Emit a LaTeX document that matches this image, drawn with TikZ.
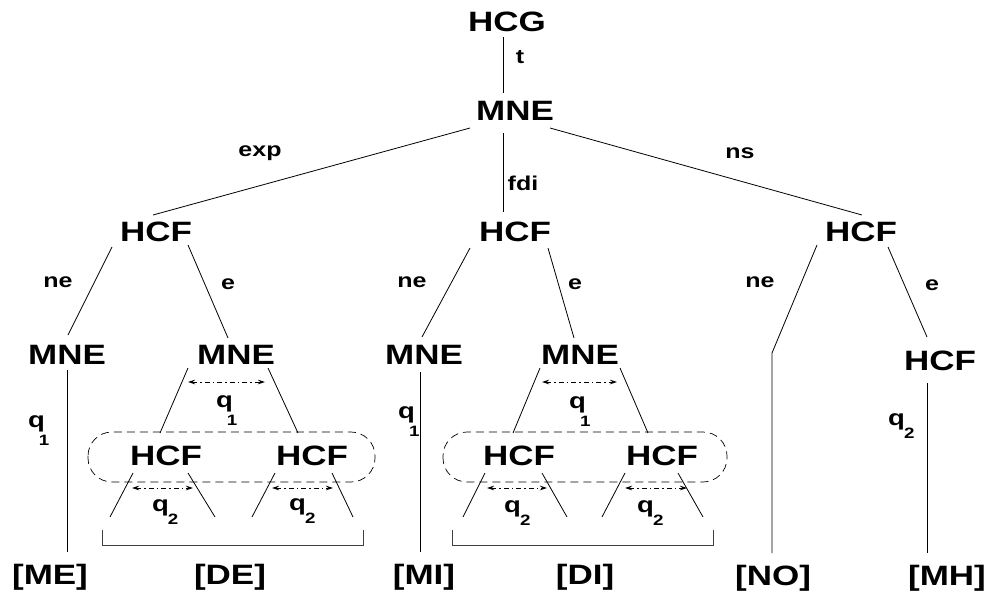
\documentclass[tikz,border=0pt]{standalone}
\usepackage{fontspec}
\setmainfont{Liberation Sans}[FakeStretch=1.25]
\usetikzlibrary{arrows.meta,calc}
\newcommand\qone{q\kern-6pt\raisebox{-18pt}{\fontsize{15}{15}\selectfont 1}}
\newcommand\qtwo{q\kern-1pt\raisebox{-13pt}{\fontsize{15}{15}\selectfont 2}}
\begin{document}
\begin{tikzpicture}[x=1pt,y=-1pt,
  big/.style={font=\fontsize{28}{28}\selectfont\bfseries, inner sep=0pt},
  lab/.style={font=\fontsize{20}{20}\selectfont\bfseries, inner sep=0pt},
  qlab/.style={font=\fontsize{22}{22}\selectfont\bfseries, inner sep=0pt, anchor=base west},
  edge/.style={line width=0.8pt},
  dd/.style={line width=0.8pt, dash pattern=on 5pt off 3pt on 1.5pt off 3pt,
     {Stealth[length=7pt,width=4.5pt]}-{Stealth[length=7pt,width=4.5pt]}},
  grp/.style={line width=0.7pt, dash pattern=on 8pt off 5pt, rounded corners=24pt},
  brk/.style={line width=0.7pt, black!75}]
\useasboundingbox (0,0) rectangle (986,599);
% nodes
\node[big] (HCG)  at (507,22)  {HCG};
\node[big] (MNE0) at (515,111) {MNE};
\node[big] (HCFa) at (156,232) {HCF};
\node[big] (HCFb) at (515,232) {HCF};
\node[big] (HCFc) at (861,232) {HCF};
\node[big] (MNEa1) at (67,355) {MNE};
\node[big] (MNEa2) at (236,355) {MNE};
\node[big] (MNEb1) at (424,355) {MNE};
\node[big] (MNEb2) at (580,355) {MNE};
\node[big] (HCFc2) at (940,361) {HCF};
\node[big] (HCFa21) at (166,456) {HCF};
\node[big] (HCFa22) at (312,456) {HCF};
\node[big] (HCFb21) at (519,456) {HCF};
\node[big] (HCFb22) at (662,456) {HCF};
\node[big] (ME) at (50,577) {[ME]};
\node[big] (DE) at (230,577) {[DE]};
\node[big] (MI) at (424,577) {[MI]};
\node[big] (DI) at (585,577) {[DI]};
\node[big] (NO) at (773,578) {[NO]};
\node[big] (MH) at (947,578) {[MH]};
% edge labels
\node[lab] (lt)   at (520,57)  {t};
\node[lab] (lexp) at (260,153) {exp};
\node[lab] (lfdi) at (523,183) {fdi};
\node[lab] (lns)  at (740,153) {ns};
\node[lab] (lne1) at (58,282)  {ne};
\node[lab] (le1)  at (228,284) {e};
\node[lab] (lne2) at (412,282) {ne};
\node[lab] (le2)  at (575,284) {e};
\node[lab] (lne3) at (760,282) {ne};
\node[lab] (le3)  at (932,285) {e};
% q labels
\node[qlab] (q1l) at (28,427)  {\qone};
\node[qlab] (q1m) at (398,418) {\qone};
\node[qlab] (q2r) at (888,425) {\qtwo};
\node[qlab] (q1a) at (216,407) {\qone};
\node[qlab] (q1b) at (569,408) {\qone};
\node[qlab] (q2a1) at (152,511) {\qtwo};
\node[qlab] (q2a2) at (289,510) {\qtwo};
\node[qlab] (q2b1) at (504,512) {\qtwo};
\node[qlab] (q2b2) at (637,512) {\qtwo};
% main edges
\draw[edge] ($(HCG)+(-4,15)$) -- ($(MNE0)+(-12,-18)$);
\draw[edge] ($(MNE0)+(-45,17)$) -- ($(HCFa)+(-3,-17)$);
\draw[edge] ($(MNE0)+(-12,22)$) -- ($(HCFb)+(-12,-20)$);
\draw[edge] ($(MNE0)+(35,17)$) -- ($(HCFc)+(1,-17)$);
\draw[edge] ($(HCFa)+(-44,15)$) -- ($(MNEa1)+(1,-20)$);
\draw[edge] ($(HCFa)+(32,13)$) -- ($(MNEa2)+(-8,-17)$);
\draw[edge] ($(HCFb)+(-45,16)$) -- ($(MNEb1)+(-2,-18)$);
\draw[edge] ($(HCFb)+(33,16)$) -- ($(MNEb2)+(-6,-17)$);
\coordinate (bend) at (772,353);
\draw[edge] ($(HCFc)+(-44,13)$) -- (bend) -- ($(NO)+(-1,-25)$);
\draw[edge] ($(HCFc)+(27,15)$) -- ($(HCFc2)+(-13,-24)$);
\draw[edge] ($(HCFc2)+(-13,22)$) -- ($(MH)+(-20,-25)$);
\draw[edge] ($(MNEa1)+(0,15)$) -- ($(ME)+(17,-25)$);
\draw[edge] ($(MNEb1)+(-4,17)$) -- ($(MI)+(-4,-25)$);
% subtree edges
\draw[edge] ($(MNEa2)+(-48,13)$) -- ($(HCFa21)+(-6,-23)$);
\draw[edge] ($(MNEa2)+(32,13)$) -- ($(HCFa22)+(-14,-23)$);
\draw[edge] ($(MNEb2)+(-40,13)$) -- ($(HCFb21)+(-6,-23)$);
\draw[edge] ($(MNEb2)+(40,13)$) -- ($(HCFb22)+(-14,-23)$);
% leaves
\coordinate (la1) at (110,517); \coordinate (la2) at (215,517);
\coordinate (la3) at (252,517); \coordinate (la4) at (353,517);
\coordinate (lb1) at (463,517); \coordinate (lb2) at (567,517);
\coordinate (lb3) at (602,517); \coordinate (lb4) at (703,517);
\draw[edge] ($(HCFa21)+(-33,17)$) -- (la1);
\draw[edge] ($(HCFa21)+(22,17)$) -- (la2);
\draw[edge] ($(HCFa22)+(-37,17)$) -- (la3);
\draw[edge] ($(HCFa22)+(20,17)$) -- (la4);
\draw[edge] ($(HCFb21)+(-34,17)$) -- (lb1);
\draw[edge] ($(HCFb21)+(23,17)$) -- (lb2);
\draw[edge] ($(HCFb22)+(-37,17)$) -- (lb3);
\draw[edge] ($(HCFb22)+(16,17)$) -- (lb4);
% double arrows
\coordinate (aa1) at (188,382); \coordinate (aa2) at (265,382);
\coordinate (ab1) at (542,382); \coordinate (ab2) at (617,382);
\coordinate (ca1) at (132,488); \coordinate (ca2) at (193,488);
\coordinate (cb1) at (272,488); \coordinate (cb2) at (333,488);
\coordinate (cc1) at (487,488); \coordinate (cc2) at (547,488);
\coordinate (cd1) at (625,488); \coordinate (cd2) at (687,488);
\draw[dd] (aa1) -- (aa2);
\draw[dd] (ab1) -- (ab2);
\draw[dd] (ca1) -- (ca2);
\draw[dd] (cb1) -- (cb2);
\draw[dd] (cc1) -- (cc2);
\draw[dd] (cd1) -- (cd2);
% dashed groups
\draw[grp] (88,432) rectangle (375,482);
\draw[grp] (443,432) rectangle (727,482);
% brackets
\draw[brk] (102,530) -- (102,545) -- (363,545) -- (363,530);
\draw[brk] (452,530) -- (452,545) -- (713,545) -- (713,530);
\end{tikzpicture}
\end{document}
